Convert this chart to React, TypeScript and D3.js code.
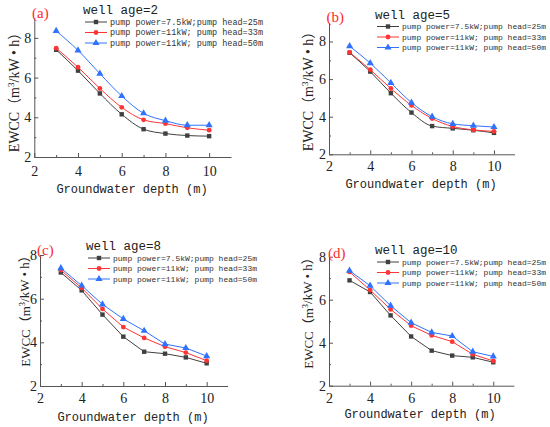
import { useEffect, useRef } from 'react';
import * as d3 from 'd3';

// groundwater depth (m) on the x axis
const depths = [3, 4, 5, 6, 7, 8, 9, 10];

const seriesNames = [
  'pump power=7.5kW;pump head=25m',
  'pump power=11kW; pump head=33m',
  'pump power=11kW; pump head=50m',
];
const seriesColors = ['#404040', '#ff3535', '#2f72ff'];
const markers = ['square', 'circle', 'triangle'];

// EWCC values, one array per series, per well age
const age2Low = [7.4, 6.35, 5.2, 4.15, 3.4, 3.18, 3.08, 3.05];
const age2Mid = [7.48, 6.52, 5.45, 4.5, 3.87, 3.68, 3.47, 3.35];
const age2High = [8.35, 7.37, 6.2, 5.07, 4.2, 3.83, 3.6, 3.6];

const age5Low = [7.4, 6.4, 5.25, 4.22, 3.5, 3.38, 3.28, 3.14];
const age5Mid = [7.42, 6.5, 5.5, 4.6, 3.9, 3.48, 3.3, 3.22];
const age5High = [7.75, 6.85, 5.8, 4.75, 4.0, 3.62, 3.52, 3.45];

const age8Low = [7.2, 6.38, 5.27, 4.26, 3.57, 3.48, 3.31, 3.04];
const age8Mid = [7.31, 6.49, 5.53, 4.7, 4.2, 3.8, 3.53, 3.16];
const age8High = [7.4, 6.6, 5.74, 5.07, 4.53, 3.92, 3.74, 3.37];

const age10Low = [6.9, 6.36, 5.27, 4.29, 3.63, 3.4, 3.32, 3.09];
const age10Mid = [7.29, 6.45, 5.55, 4.79, 4.34, 4.05, 3.46, 3.15];
const age10High = [7.35, 6.65, 5.72, 4.93, 4.48, 4.31, 3.58, 3.36];

const xTicks = [2, 4, 6, 8, 10];
const xMinor = [3, 5, 7, 9];
const yTicks = [2, 4, 6, 8];
const yMinor = [3, 5, 7];

interface PanelProps {
  tag: string;
  title: string;
  series: number[][];
  yMax: number;
  smooth: boolean;
  // layout in page pixels
  x0: number; x1: number; y0: number; y1: number;
  xPad: number;
  tagX: number; tagY: number;
  legX: number; legY: number; legFont: number;
  yLabelX: number; yLabelY: number; yLabelFont: number;
  xLabelX: number; xLabelY: number;
}

const Panel = (p: PanelProps) => {
  const ref = useRef<SVGGElement | null>(null);

  useEffect(() => {
    const g = d3.select(ref.current);
    g.selectAll('*').remove();

    const x = d3.scaleLinear().domain([2, 11]).range([p.x0, p.x1]);
    const y = d3.scaleLinear().domain([2, p.yMax]).range([p.y0, p.y1]);
    const fmt = d3.format('d');

    // ejes
    const xAxis = g.append('g')
      .attr('transform', `translate(0,${p.y0})`)
      .call(d3.axisBottom(x).tickValues(xTicks).tickFormat(d => fmt(d as number))
        .tickSizeInner(-4).tickSizeOuter(0).tickPadding(p.xPad));
    g.append('g')
      .attr('transform', `translate(0,${p.y0})`)
      .call(d3.axisBottom(x).tickValues(xMinor).tickFormat(() => '').tickSizeInner(-2).tickSizeOuter(0))
      .select('.domain').remove();
    const yAxis = g.append('g')
      .attr('transform', `translate(${p.x0},0)`)
      .call(d3.axisLeft(y).tickValues(yTicks).tickFormat(d => fmt(d as number))
        .tickSizeInner(-4).tickSizeOuter(0).tickPadding(3));
    g.append('g')
      .attr('transform', `translate(${p.x0},0)`)
      .call(d3.axisLeft(y).tickValues(yMinor).tickFormat(() => '').tickSizeInner(-2).tickSizeOuter(0))
      .select('.domain').remove();

    g.selectAll('.domain, .tick line').attr('stroke', '#555');
    [xAxis, yAxis].forEach(a => a.selectAll('text')
      .attr('font-family', 'Liberation Serif, serif')
      .attr('font-size', 14)
      .attr('fill', '#222'));

    const line = d3.line<number>()
      .x((d, i) => x(depths[i]))
      .y(d => y(d))
      .curve(p.smooth ? d3.curveMonotoneX : d3.curveLinear);

    const drawMarker = (sel: d3.Selection<SVGGElement, unknown, null, undefined>, kind: string, cx: number, cy: number, color: string) => {
      if (kind === 'square') {
        sel.append('rect').attr('x', cx - 2.2).attr('y', cy - 2.2).attr('width', 4.4).attr('height', 4.4).attr('fill', color);
      } else if (kind === 'circle') {
        sel.append('circle').attr('cx', cx).attr('cy', cy).attr('r', 2.4).attr('fill', color);
      } else {
        const s = d3.symbol().type(d3.symbolTriangle).size(22);
        sel.append('path').attr('transform', `translate(${cx},${cy})`).attr('d', s()).attr('fill', color);
      }
    };

    p.series.forEach((vals, si) => {
      g.append('path')
        .datum(vals)
        .attr('fill', 'none')
        .attr('stroke', seriesColors[si])
        .attr('stroke-width', 1)
        .attr('d', line);
      const mg = g.append('g');
      vals.forEach((v, i) => drawMarker(mg, markers[si], x(depths[i]), y(v), seriesColors[si]));
    });

    // leyenda
    const leg = g.append('g').attr('transform', `translate(${p.legX},${p.legY})`);
    leg.append('text')
      .attr('x', -1).attr('y', 0)
      .attr('font-family', 'Liberation Mono, monospace')
      .attr('font-size', 12.5)
      .attr('fill', '#222')
      .text(p.title);
    seriesNames.forEach((name, i) => {
      const ly = 8 + i * 10.5;
      const lg = leg.append('g');
      lg.append('line').attr('x1', 1).attr('x2', 23).attr('y1', ly).attr('y2', ly)
        .attr('stroke', seriesColors[i]).attr('stroke-width', 1);
      drawMarker(lg, markers[i], 12, ly, seriesColors[i]);
      lg.append('text')
        .attr('x', 26).attr('y', ly).attr('dy', '0.35em')
        .attr('font-family', 'Liberation Mono, monospace')
        .attr('font-size', p.legFont)
        .attr('fill', '#333')
        .text(name);
    });

    // etiquetas
    g.append('text')
      .attr('x', p.tagX).attr('y', p.tagY).attr('dy', '0.35em')
      .attr('font-family', 'Liberation Serif, serif')
      .attr('font-size', 15)
      .attr('fill', '#ff2a2a')
      .text(p.tag);

    const yl = g.append('text')
      .attr('transform', `translate(${p.yLabelX},${p.yLabelY}) rotate(-90)`)
      .attr('text-anchor', 'middle')
      .attr('dy', '0.35em')
      .attr('font-family', 'Liberation Serif, Noto Sans CJK SC, serif')
      .attr('font-size', p.yLabelFont)
      .attr('fill', '#222');
    yl.append('tspan').text('EWCC（m');
    yl.append('tspan').attr('font-size', p.yLabelFont * 0.65).attr('dy', '-0.5em').text('3');
    yl.append('tspan').attr('dy', '0.3em').text('/kW • h）');

    g.append('text')
      .attr('x', p.xLabelX).attr('y', p.xLabelY).attr('dy', '0.35em')
      .attr('text-anchor', 'middle')
      .attr('font-family', 'Liberation Mono, monospace')
      .attr('font-size', 12)
      .attr('fill', '#222')
      .text('Groundwater depth (m)');
  }, [p]);

  return <g ref={ref}></g>;
};

const panels: PanelProps[] = [
  {
    tag: '(a)', title: 'well age=2', series: [age2Low, age2Mid, age2High], yMax: 9, smooth: true,
    x0: 34.3, x1: 231, y0: 157, y1: 18, xPad: 9, tagX: 32, tagY: 13,
    legX: 84, legY: 14, legFont: 8.5, yLabelX: 14, yLabelY: 89, yLabelFont: 14,
    xLabelX: 132, xLabelY: 189,
  },
  {
    tag: '(b)', title: 'well age=5', series: [age5Low, age5Mid, age5High], yMax: 9, smooth: true,
    x0: 329, x1: 514.6, y0: 154.3, y1: 22.7, xPad: 7, tagX: 326.5, tagY: 16.7,
    legX: 376, legY: 18.5, legFont: 8, yLabelX: 308, yLabelY: 88, yLabelFont: 14,
    xLabelX: 421, xLabelY: 184,
  },
  {
    tag: '(c)', title: 'well age=8', series: [age8Low, age8Mid, age8High], yMax: 8, smooth: false,
    x0: 40, x1: 227.5, y0: 386, y1: 255, xPad: 7, tagX: 37, tagY: 250,
    legX: 87, legY: 250, legFont: 8, yLabelX: 25, yLabelY: 308, yLabelFont: 13,
    xLabelX: 133, xLabelY: 417,
  },
  {
    tag: '(d)', title: 'well age=10', series: [age10Low, age10Mid, age10High], yMax: 8, smooth: false,
    x0: 329, x1: 513.8, y0: 385.7, y1: 256.7, xPad: 7, tagX: 328, tagY: 252.7,
    legX: 376, legY: 254, legFont: 8, yLabelX: 308, yLabelY: 310, yLabelFont: 13,
    xLabelX: 420, xLabelY: 414,
  },
];

export default function App() {
  return (
    <svg width={550} height={427} style={{ position: 'absolute', left: 0, top: 0, background: '#fff' }}>
      {panels.map(p => <Panel key={p.tag} {...p} />)}
    </svg>
  );
}
